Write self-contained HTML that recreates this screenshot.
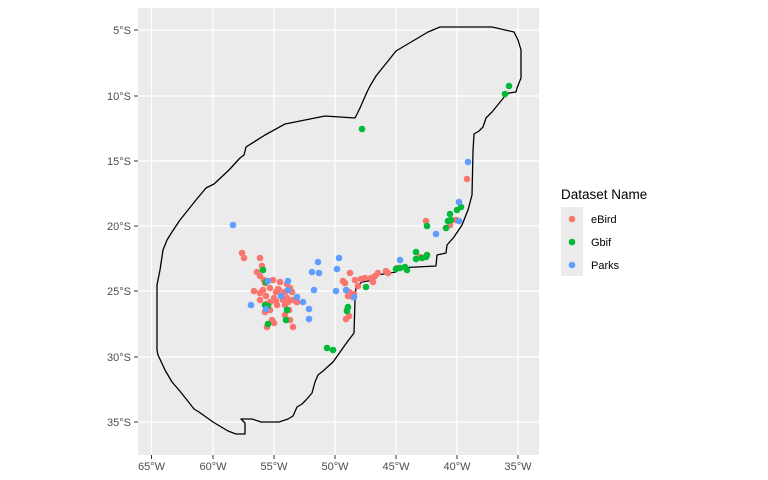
<!DOCTYPE html>
<html><head><style>body{margin:0;background:#fff}svg{display:block}text{font-family:"Liberation Sans",sans-serif}circle{r:3.3px}</style></head><body>
<svg width="768" height="480" viewBox="0 0 768 480">
<rect x="138" y="8" width="401" height="447" fill="#EBEBEB"/>
<g stroke="#fff" stroke-width="1.2">
<line x1="151.5" y1="8" x2="151.5" y2="455"/><line x1="213" y1="8" x2="213" y2="455"/><line x1="274" y1="8" x2="274" y2="455"/><line x1="335" y1="8" x2="335" y2="455"/><line x1="396" y1="8" x2="396" y2="455"/><line x1="457" y1="8" x2="457" y2="455"/><line x1="518" y1="8" x2="518" y2="455"/>
<line x1="138" y1="30" x2="539" y2="30"/><line x1="138" y1="96" x2="539" y2="96"/><line x1="138" y1="161" x2="539" y2="161"/><line x1="138" y1="226" x2="539" y2="226"/><line x1="138" y1="291" x2="539" y2="291"/><line x1="138" y1="357" x2="539" y2="357"/><line x1="138" y1="422" x2="539" y2="422"/>
</g>
<polygon fill="none" stroke="#000" stroke-width="1.3" stroke-linejoin="round" points="157,350 157,285 160,270 163,250 167,240 172,232 180,220 196,200 206,188 214,184 229,170 240,158 244,155 246,147 265,135 285,124 325,116 355,118 360,108 367,92 370,86 376,76 396,51 428,32 440,27 492,27 514,32 518,40 521,50 521,78 517,88 516,92 509,93 505,96 492,112 486,118 483,127 479,131 474,134 473,151 472,195 468,210 462,225 454,237 447,245 446,253 437,255 436,266 397,268 396,272 377,275 374,280 362,282 356,287 355,300 354,333 345,345 338,355 333,362 323,371 318,375 315,382 312,393 306,400 302,404 297,407 293,416 288,419 279,422 261,422 252,419 241,419 245,423 245,434 236,434 228,431 213,422 199,412 194,409 187,400 183,395 179,390 172,382 165,370 158,355"/>
<g fill="#F8766D">
<circle cx="242" cy="253" r="3.3"/><circle cx="244" cy="258" r="3.3"/><circle cx="260" cy="258" r="3.3"/><circle cx="262" cy="266" r="3.3"/><circle cx="257" cy="272" r="3.3"/><circle cx="260" cy="276" r="3.3"/><circle cx="264" cy="280" r="3.3"/><circle cx="265" cy="283" r="3.3"/><circle cx="273" cy="280" r="3.3"/><circle cx="280" cy="282" r="3.3"/><circle cx="279" cy="290" r="3.3"/><circle cx="276" cy="292" r="3.3"/><circle cx="287" cy="284" r="3.3"/><circle cx="290" cy="288" r="3.3"/><circle cx="292" cy="292" r="3.3"/><circle cx="285" cy="292" r="3.3"/><circle cx="287" cy="298" r="3.3"/><circle cx="283" cy="300" r="3.3"/><circle cx="288" cy="302" r="3.3"/><circle cx="293" cy="300" r="3.3"/><circle cx="276" cy="301" r="3.3"/><circle cx="270" cy="302" r="3.3"/><circle cx="266" cy="304" r="3.3"/><circle cx="270" cy="310" r="3.3"/><circle cx="265" cy="312" r="3.3"/><circle cx="277" cy="305" r="3.3"/><circle cx="272" cy="320" r="3.3"/><circle cx="267" cy="327" r="3.3"/><circle cx="274" cy="323" r="3.3"/><circle cx="285" cy="315" r="3.3"/><circle cx="290" cy="320" r="3.3"/><circle cx="293" cy="327" r="3.3"/><circle cx="289" cy="310" r="3.3"/><circle cx="297" cy="302" r="3.3"/><circle cx="285" cy="305" r="3.3"/><circle cx="254" cy="291" r="3.3"/><circle cx="260" cy="293" r="3.3"/><circle cx="263" cy="290" r="3.3"/><circle cx="266" cy="296" r="3.3"/><circle cx="260" cy="300" r="3.3"/><circle cx="274" cy="298" r="3.3"/><circle cx="270" cy="288" r="3.3"/><circle cx="278" cy="289" r="3.3"/>
<circle cx="343" cy="281" r="3.3"/><circle cx="355" cy="280" r="3.3"/><circle cx="361" cy="279" r="3.3"/><circle cx="365" cy="278" r="3.3"/><circle cx="371" cy="278" r="3.3"/><circle cx="375" cy="276" r="3.3"/><circle cx="378" cy="273" r="3.3"/><circle cx="373" cy="282" r="3.3"/><circle cx="386" cy="271" r="3.3"/><circle cx="388" cy="273" r="3.3"/><circle cx="397" cy="268" r="3.3"/><circle cx="349" cy="292" r="3.3"/><circle cx="354" cy="294" r="3.3"/><circle cx="352" cy="295" r="3.3"/><circle cx="348" cy="296" r="3.3"/><circle cx="353" cy="297" r="3.3"/><circle cx="347" cy="310" r="3.3"/><circle cx="349" cy="316" r="3.3"/><circle cx="346" cy="319" r="3.3"/><circle cx="358" cy="286" r="3.3"/><circle cx="350" cy="273" r="3.3"/><circle cx="345" cy="283" r="3.3"/><circle cx="420" cy="257" r="3.3"/><circle cx="426" cy="221" r="3.3"/><circle cx="456" cy="220" r="3.3"/><circle cx="467" cy="179" r="3.3"/><circle cx="450" cy="225" r="3.3"/>
</g>
<g fill="#00BA38">
<circle cx="263" cy="270" r="3.3"/><circle cx="266" cy="282" r="3.3"/><circle cx="265" cy="305" r="3.3"/><circle cx="268" cy="306" r="3.3"/><circle cx="268" cy="324" r="3.3"/><circle cx="287" cy="310" r="3.3"/><circle cx="286" cy="320" r="3.3"/><circle cx="347" cy="311" r="3.3"/><circle cx="348" cy="307" r="3.3"/><circle cx="366" cy="287" r="3.3"/><circle cx="327" cy="348" r="3.3"/><circle cx="333" cy="350" r="3.3"/><circle cx="362" cy="129" r="3.3"/><circle cx="509" cy="86" r="3.3"/><circle cx="505" cy="94" r="3.3"/>
<circle cx="461" cy="207" r="3.3"/><circle cx="457" cy="210" r="3.3"/><circle cx="450" cy="214" r="3.3"/><circle cx="451" cy="220" r="3.3"/><circle cx="448" cy="221" r="3.3"/><circle cx="446" cy="228" r="3.3"/><circle cx="427" cy="226" r="3.3"/><circle cx="416" cy="252" r="3.3"/><circle cx="416" cy="259" r="3.3"/><circle cx="422" cy="258" r="3.3"/><circle cx="426" cy="257" r="3.3"/><circle cx="427" cy="255" r="3.3"/><circle cx="407" cy="270" r="3.3"/><circle cx="400" cy="268" r="3.3"/><circle cx="405" cy="267" r="3.3"/><circle cx="396" cy="269" r="3.3"/>
</g>
<g fill="#619CFF">
<circle cx="233" cy="225" r="3.3"/><circle cx="268" cy="281" r="3.3"/><circle cx="288" cy="281" r="3.3"/><circle cx="288" cy="290" r="3.3"/><circle cx="281" cy="296" r="3.3"/><circle cx="251" cy="305" r="3.3"/><circle cx="297" cy="297" r="3.3"/><circle cx="303" cy="302" r="3.3"/><circle cx="309" cy="309" r="3.3"/><circle cx="314" cy="290" r="3.3"/><circle cx="312" cy="272" r="3.3"/><circle cx="319" cy="273" r="3.3"/><circle cx="318" cy="262" r="3.3"/><circle cx="339" cy="258" r="3.3"/><circle cx="337" cy="269" r="3.3"/><circle cx="309" cy="319" r="3.3"/><circle cx="336" cy="291" r="3.3"/><circle cx="346" cy="290" r="3.3"/><circle cx="354" cy="297" r="3.3"/><circle cx="400" cy="260" r="3.3"/><circle cx="436" cy="234" r="3.3"/><circle cx="459" cy="221" r="3.3"/><circle cx="459" cy="202" r="3.3"/><circle cx="468" cy="162" r="3.3"/><circle cx="266" cy="309" r="3.3"/>
</g>
<g fill="#4D4D4D" font-size="11" text-anchor="end">
<text x="131" y="34">5°S</text><text x="131" y="100">10°S</text><text x="131" y="165">15°S</text><text x="131" y="230">20°S</text><text x="131" y="295">25°S</text><text x="131" y="361">30°S</text><text x="131" y="426">35°S</text>
</g>
<g stroke="#333" stroke-width="1">
<line x1="134" y1="30" x2="138" y2="30"/><line x1="134" y1="96" x2="138" y2="96"/><line x1="134" y1="161" x2="138" y2="161"/><line x1="134" y1="226" x2="138" y2="226"/><line x1="134" y1="291" x2="138" y2="291"/><line x1="134" y1="357" x2="138" y2="357"/><line x1="134" y1="422" x2="138" y2="422"/>
<line x1="151.5" y1="455" x2="151.5" y2="459"/><line x1="213" y1="455" x2="213" y2="459"/><line x1="274" y1="455" x2="274" y2="459"/><line x1="335" y1="455" x2="335" y2="459"/><line x1="396" y1="455" x2="396" y2="459"/><line x1="457" y1="455" x2="457" y2="459"/><line x1="518" y1="455" x2="518" y2="459"/>
</g>
<g fill="#4D4D4D" font-size="11" text-anchor="middle">
<text x="151.5" y="470">65°W</text><text x="213" y="470">60°W</text><text x="274" y="470">55°W</text><text x="335" y="470">50°W</text><text x="396" y="470">45°W</text><text x="457" y="470">40°W</text><text x="518" y="470">35°W</text>
</g>
<text x="561" y="199" font-size="13.5" fill="#000">Dataset Name</text>
<rect x="561" y="207" width="22" height="69" fill="#EBEBEB"/>
<circle cx="572" cy="219" r="3.3" fill="#F8766D"/><circle cx="572" cy="242" r="3.3" fill="#00BA38"/><circle cx="572" cy="265" r="3.3" fill="#619CFF"/>
<g font-size="11" fill="#000"><text x="591" y="223">eBird</text><text x="591" y="246">Gbif</text><text x="591" y="269">Parks</text></g>
</svg>
</body></html>
